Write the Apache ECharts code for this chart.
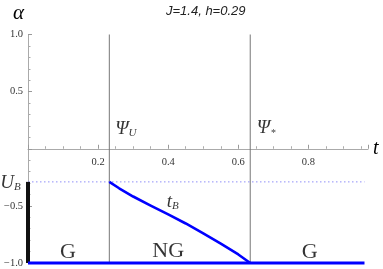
<!DOCTYPE html>
<html><head><meta charset="utf-8">
<script src="https://cdn.jsdelivr.net/npm/echarts@6/dist/echarts.min.js"></script>
<style>html,body{margin:0;padding:0;background:#fff}#c{width:383px;height:269px}</style>
</head><body><div id="c"></div>
<script>
const titleText = 'J=1.4, h=0.29';
const xTicks = [0.2, 0.4, 0.6, 0.8];
const yTicks = [1.0, 0.5, -0.5, -1.0];
const psiU = 0.232;
const psiStar = 0.634;
const UB = -0.29;
const tEnd = 0.96;
const tB_t = [0.232, 0.26, 0.30, 0.35, 0.40, 0.45, 0.50, 0.55, 0.60, 0.634];
const tB_alpha = [-0.29, -0.346, -0.418, -0.498, -0.575, -0.654, -0.74, -0.83, -0.925, -1.0];
const annotT = [0.279, 0.68, -0.05, 0.413, 0.114, 0.40, 0.804];
const annotA = [0.173, 0.18, -0.30, -0.462, -0.904, -0.899, -0.908];
const annotText = ['{i|Ψ}{sub|U}', '{i|Ψ}{star|*}', '{i|U}{sub|B}', '{i|t}{sub|B}', '{r|G}', '{r|NG}', '{r|G}'];

const serif = '"Liberation Serif", "DejaVu Serif", serif';
const chart = echarts.init(document.getElementById('c'), null, {renderer: 'canvas'});
const fmt = v => {
  const r = Math.round(v * 100) / 100;
  const xs = xTicks.concat(yTicks);
  return xs.some(a => Math.abs(a - r) < 1e-6) ? r.toFixed(1).replace('-', '\u2212') : '';
};
const rich = {
  i: {fontFamily: serif, fontStyle: 'italic', fontSize: 19, color: '#000'},
  sub: {fontFamily: serif, fontStyle: 'italic', fontSize: 11, color: '#000', verticalAlign: 'bottom', padding: [9, 0, 0, 0]},
  star: {fontFamily: serif, fontSize: 10, color: '#000', verticalAlign: 'bottom', padding: [10, 0, 0, 1]},
  r: {fontFamily: serif, fontSize: 22, color: '#000'}
};
const gridH = 228.5;
chart.setOption({
  animation: false,
  title: {text: titleText, left: 161, top: 0,
    textStyle: {fontFamily: '"Liberation Sans", Arial, sans-serif', fontStyle: 'italic', fontWeight: 'normal', fontSize: 13, color: '#222'}},
  grid: {left: 28, top: 34.5, width: 340, height: gridH, containLabel: false, outerBoundsMode: 'none'},
  xAxis: {type: 'value', min: 0, max: 0.97, interval: 0.2, position: 'bottom', offset: -gridH / 2,
    name: 't', nameLocation: 'end', nameGap: 5,
    nameTextStyle: {fontFamily: serif, fontStyle: 'italic', fontSize: 20, color: '#000', verticalAlign: 'middle'},
    axisLine: {onZero: false, lineStyle: {color: '#aaa', width: 1}},
    axisTick: {show: true, inside: true, length: 4, lineStyle: {color: '#999'}},
    minorTick: {show: true, splitNumber: 4, length: 2.5, lineStyle: {color: '#aaa'}},
    splitLine: {show: false},
    axisLabel: {formatter: fmt, fontFamily: serif, fontSize: 10.5, color: '#333', margin: 8, showMaxLabel: false}
  },
  yAxis: {type: 'value', min: -1, max: 1, interval: 0.5,
    axisLine: {onZero: false, lineStyle: {color: '#aaa', width: 1}},
    axisTick: {show: true, inside: true, length: 4, lineStyle: {color: '#999'}},
    minorTick: {show: true, splitNumber: 5, length: 2.5, lineStyle: {color: '#aaa'}},
    splitLine: {show: false},
    axisLabel: {formatter: fmt, fontFamily: serif, fontSize: 10.5, color: '#333', margin: 5}
  },
  graphic: [{type: 'text', left: 13, top: 3,
    style: {text: 'α', font: 'italic 21px ' + serif, fill: '#000'}}],
  series: [
    {type: 'line', data: [[psiU, -1], [psiU, 1]], symbol: 'none', lineStyle: {color: '#777', width: 1}, z: 1},
    {type: 'line', data: [[psiStar, -1], [psiStar, 1]], symbol: 'none', lineStyle: {color: '#777', width: 1}, z: 1},
    {type: 'line', data: [[0, UB], [tEnd, UB]], symbol: 'none', lineStyle: {color: '#8f8ff7', width: 1, type: [1.5, 2.5]}, z: 2},
    {type: 'line', data: [[0, UB], [0, -1]], symbol: 'none', clip: false, lineStyle: {color: '#111', width: 4}, z: 3},
    {type: 'line', data: [[0, -1], [tEnd, -1]], symbol: 'none', clip: false, lineStyle: {color: '#0000ff', width: 3}, z: 4},
    {type: 'line', data: tB_t.map((t, k) => [t, tB_alpha[k]]), symbol: 'none', smooth: false, clip: false,
      lineStyle: {color: '#0000ff', width: 2.6, join: 'round'}, z: 4},
    {type: 'scatter', symbolSize: 0, clip: false, silent: true, z: 5,
      data: annotT.map((t, k) => ({value: [t, annotA[k]], label: {formatter: annotText[k]}})),
      label: {show: true, position: 'inside', rich: rich}}
  ]
});
</script></body></html>
